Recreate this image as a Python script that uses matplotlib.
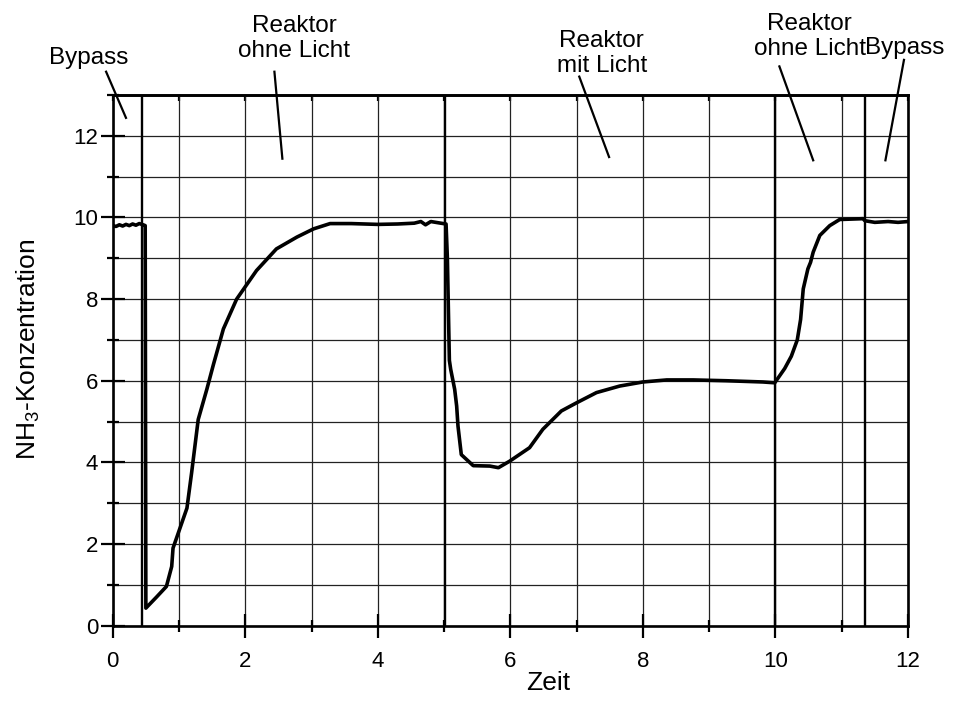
import matplotlib
matplotlib.use('Agg')
import matplotlib.pyplot as plt
from matplotlib.ticker import MultipleLocator

plt.rcParams['font.family'] = ['Liberation Sans', 'DejaVu Sans']
plt.rcParams['mathtext.fontset'] = 'custom'
plt.rcParams['mathtext.rm'] = 'Liberation Sans'

# measured NH3 concentration over time
zeit = [0.00, 0.05, 0.10, 0.15, 0.20, 0.25, 0.30, 0.35, 0.40, 0.46, 0.49,
        0.50, 0.66, 0.81, 0.89, 0.91, 1.12, 1.19, 1.29, 1.42, 1.52, 1.67,
        1.87, 2.17, 2.47, 2.78, 3.03, 3.28, 3.60, 4.00, 4.30, 4.55, 4.65,
        4.72, 4.80, 4.95, 5.03, 5.05, 5.08, 5.10, 5.16, 5.19, 5.21, 5.26,
        5.44, 5.69, 5.82, 5.99, 6.29, 6.49, 6.77, 7.00, 7.30, 7.65, 8.00,
        8.36, 8.76, 9.26, 9.81, 9.99, 10.14, 10.24, 10.33, 10.38, 10.42,
        10.49, 10.53, 10.57, 10.67, 10.82, 10.97, 11.32, 11.35, 11.50,
        11.70, 11.85, 12.00]
nh3 = [9.80, 9.78, 9.82, 9.79, 9.83, 9.80, 9.84, 9.81, 9.85, 9.82, 9.80,
       0.43, 0.70, 0.96, 1.45, 1.90, 2.88, 3.74, 5.05, 5.79, 6.40, 7.27,
       8.00, 8.70, 9.23, 9.52, 9.72, 9.85, 9.85, 9.83, 9.84, 9.86, 9.90,
       9.82, 9.90, 9.86, 9.84, 9.00, 6.50, 6.28, 5.79, 5.38, 4.89, 4.19,
       3.92, 3.91, 3.87, 4.03, 4.36, 4.81, 5.26, 5.46, 5.71, 5.87, 5.97,
       6.02, 6.02, 6.00, 5.97, 5.95, 6.30, 6.60, 7.00, 7.50, 8.25,
       8.74, 8.90, 9.15, 9.56, 9.80, 9.95, 9.97, 9.92, 9.88,
       9.90, 9.88, 9.90]

# switching times between operating modes
umschalt = [0.44, 5.02, 10.0, 11.35]

# phase labels: text, text position, leader line start/end
labels = ['Bypass', 'Reaktor\nohne Licht', 'Reaktor\nmit Licht',
          'Reaktor\nohne Licht', 'Bypass']
label_x = [-0.37, 2.74, 7.38, 10.52, 11.95]
label_y = [13.9, 14.39, 14.02, 14.44, 14.14]
pfeil_von = [(-0.10, 13.57), (2.44, 13.57), (7.04, 13.45), (10.06, 13.70), (11.94, 13.86)]
pfeil_bis = [(0.20, 12.44), (2.56, 11.44), (7.49, 11.48), (10.57, 11.40), (11.66, 11.40)]

fig = plt.figure(figsize=(9.61, 7.11), dpi=100)
ax = fig.add_axes([0.1173, 0.12, 0.8275, 0.7464])

ax.set_xlim(0, 12)
ax.set_ylim(0, 13)
ax.xaxis.set_major_locator(MultipleLocator(2))
ax.xaxis.set_minor_locator(MultipleLocator(1))
ax.yaxis.set_major_locator(MultipleLocator(2))
ax.yaxis.set_minor_locator(MultipleLocator(1))
ax.grid(True, which='both', color='#222222', linewidth=0.9)
ax.set_axisbelow(True)

for x in umschalt:
    ax.axvline(x, color='black', linewidth=1.7)

ax.plot(zeit, nh3, color='black', linewidth=2.6, solid_joinstyle='round')

for t, lx, ly, p0, p1 in zip(labels, label_x, label_y, pfeil_von, pfeil_bis):
    ax.text(lx, ly, t, ha='center', va='center', fontsize=17.5,
            linespacing=1.2, clip_on=False)
    ax.plot([p0[0], p1[0]], [p0[1], p1[1]], color='black', linewidth=1.6,
            clip_on=False)

for s in ax.spines.values():
    s.set_linewidth(1.9)
ax.tick_params(which='major', direction='inout', length=17, width=1.6,
               labelsize=16)
ax.tick_params(which='minor', direction='inout', length=8, width=1.6)
ax.tick_params(axis='x', which='major', pad=10)
ax.tick_params(axis='y', which='major', pad=2)

# small inward ticks along the top edge
top = ax.secondary_xaxis('top')
top.xaxis.set_major_locator(MultipleLocator(1))
top.tick_params(direction='in', length=4, width=1.6, labeltop=False)
top.spines['top'].set_linewidth(1.9)

ax.set_xlabel('Zeit', fontsize=19)
ax.xaxis.set_label_coords(0.547, -0.085)
ax.set_ylabel(r'NH$_\mathregular{3}$-Konzentration', fontsize=19)
ax.yaxis.set_label_coords(-0.089, 0.52)

fig.savefig('out.png', dpi=100)
